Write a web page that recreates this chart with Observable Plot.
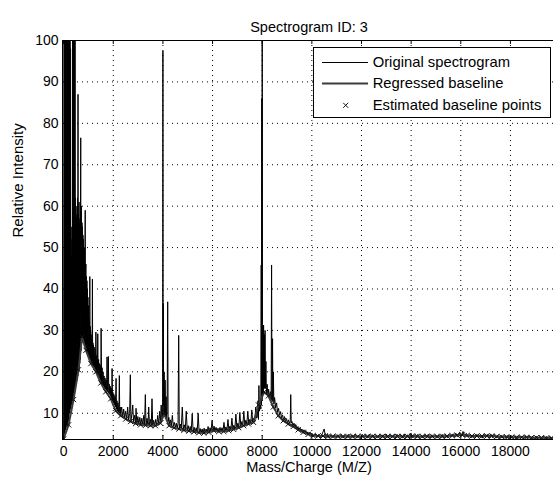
<!DOCTYPE html>
<html>
<head>
<meta charset="utf-8">
<script src="https://cdn.jsdelivr.net/npm/d3@7"></script>
<script src="https://cdn.jsdelivr.net/npm/@observablehq/plot@0.6"></script>
<style>
  body { margin: 0; background: #fff; }
  #wrap { position: relative; width: 553px; height: 477px; overflow: hidden; font-family: "Liberation Sans", Arial, Helvetica, sans-serif; }
  #wrap svg { display: block; }
  #legend { position: absolute; left: 313px; top: 47px; }
  #legend text { font-family: "Liberation Sans", Arial, Helvetica, sans-serif; font-size: 14.8px; fill: #000; }
</style>
</head>
<body>
<div id="wrap"></div>
<script>
// ---------- text ----------
const titleText = "Spectrogram ID: 3";
const xLabel = "Mass/Charge (M/Z)";
const yLabel = "Relative Intensity";
const legendLabels = ["Original spectrogram", "Regressed baseline", "Estimated baseline points"];

// ---------- ticks ----------
const xTicks = [0, 2000, 4000, 6000, 8000, 10000, 12000, 14000, 16000, 18000];
const yTicks = [10, 20, 30, 40, 50, 60, 70, 80, 90, 100];
const xDomain = [-45, 19735];
const yDomain = [3.66, 100];

// ---------- original spectrogram [m/z, intensity] ----------
const specLow = [
  [0,4],[10,60],[20,130],[30,5],[40,120],[50,5],[60,125],[70,6],[80,135],[90,6],[100,140],[110,7],
  [120,128],[130,8],[140,110],[150,7],[160,130],[170,8],[180,130],[190,8],[200,122],[210,9],[220,120],
  [230,10],[240,132],[250,10],[260,135],[270,11],[280,98],[290,11],[300,55],[310,12],[320,48],[330,12],
  [340,52],[350,13],[360,104],[370,13],[380,128],[390,14],[400,125],[410,14],[420,135],[430,15],[440,120],
  [450,15],[460,118],[470,16],[480,62],[490,17],[500,60],[510,17],[520,57],[530,18],[540,58],[550,18],
  [560,62],[570,19],[580,87],[590,20],[600,58],[610,20],[620,61],[630,21],[640,56],[650,22],[660,57],
  [670,23],[680,59],[690,76.5],[700,25],[710,54],[720,60],[730,27],[740,56],[750,28],[760,55],[770,28],
  [780,53],[790,27.5],[800,52],[810,27],[820,49],[830,27],[840,50],[850,26],[860,47],[870,59],[880,26],
  [890,45],[900,46],[910,25],[920,43],[930,25],[940,42],[950,25],[960,40],[970,24.5],[980,38],[990,24],
  [1000,36],[1010,24],[1020,33],[1030,23.5],[1040,32],[1048,23.5],[1055,43],[1062,23],[1070,31],[1080,23],
  [1090,30],[1100,22.5],[1110,29],[1120,22.5],[1130,28],[1140,22],[1150,28],[1160,42.4],[1170,21.5],
  [1180,27],[1190,21.5],[1200,26.5],[1210,21.2],[1230,26],[1250,21],[1270,25.5],[1285,20.5],[1300,29.6],
  [1320,20],[1340,24],[1360,19.5],[1376,29.2],[1390,19],[1410,23],[1430,18.5],[1450,22],[1470,18],
  [1490,21.5],[1500,17.8],[1510,30.5],[1530,17.5],[1550,21],[1570,17],[1590,20],[1610,16.5],[1630,19],
  [1650,16],[1670,18.5],[1690,15.8],[1710,18],[1730,15.5],[1750,23.6],[1770,15.2],[1790,17.5],[1803,23.7],
  [1820,14.8],[1840,17],[1860,14.5],[1880,16.5],[1900,14],[1920,16],[1940,13.5],[1952,20.8],[1970,13],
  [1990,15],[2010,12.5],[2030,14.5],[2050,12],[2070,14],[2090,11.5],[2113,18.4],[2130,11],[2150,13],
  [2170,10.5],[2190,12.5],[2210,10.2],[2230,12],[2245,19.1],[2260,10],[2280,11.5]
];
const specMid = [
  [2300,9.5],[2340,11.5],[2380,9.0],[2420,11],[2460,8.8],[2500,10.5],[2540,8.5],[2580,11.5],[2620,8.3],
  [2660,10],[2688,19.3],[2710,8.0],[2750,9.8],[2785,12],[2820,7.8],[2860,9.5],[2900,7.6],[2917,11.2],
  [2950,7.5],[2990,9.2],[3030,7.3],[3070,9],[3110,7.2],[3150,8.8],[3190,7.1],[3230,9.5],[3260,7.1],
  [3292,14.5],[3320,7.0],[3360,8.8],[3400,7.0],[3428,11.5],[3460,7.0],[3500,8.5],[3530,6.9],[3561,13.5],
  [3590,6.9],[3630,8.3],[3670,6.9],[3710,8.5],[3750,7.0],[3790,9.5],[3830,7.3],[3870,10.5],[3900,7.8],
  [3930,12],[3960,8.5]
];
const spec4000 = [
  [3990,9],[4000,97.5],[4010,9.5],[4016,36.5],[4030,12],[4050,20],[4070,10],[4090,18],[4110,9],[4130,14],
  [4150,8.5],[4170,11],[4193,36.9],[4210,8],[4240,9],[4270,7.3],[4300,8.4],[4340,7],[4380,9.5],[4420,6.8],
  [4460,7.8],[4500,6.6],[4540,7.6],[4580,6.5],[4610,7.5],[4636,28.8],[4660,6.4],[4700,7.4],[4740,6.3],
  [4780,11.5],[4820,6.2],[4860,7.2],[4900,6.0],[4940,10.5],[4980,5.9],[5020,7.0],[5060,5.8],[5100,6.8],
  [5140,5.6],[5180,9.9],[5220,5.5],[5260,6.6],[5300,5.4],[5340,6.5],[5380,5.3],[5420,10],[5460,5.3],
  [5500,6.3],[5540,5.2],[5580,6.2],[5620,5.1],[5660,6.4],[5700,5.2],[5740,6.2],[5780,5.3],[5820,6.8],
  [5860,5.4],[5900,6.5],[5940,5.6],[5980,8.3],[6020,5.8],[6060,6.9],[6100,5.6],[6140,6.6],[6180,5.5],
  [6220,6.4],[6260,5.4],[6300,6.6],[6340,5.5],[6380,6.5],[6420,5.6],[6460,7.8],[6500,5.7],[6540,6.7],
  [6580,5.8],[6620,8.5],[6660,5.9],[6700,6.9],[6740,6.0],[6780,8.8],[6820,6.1],[6860,7.1],[6900,6.3],
  [6940,9.8],[6980,6.5],[7020,7.6],[7060,6.7],[7100,10.2],[7140,6.8],[7180,8.0],[7220,7.0],[7260,10.5],
  [7300,7.1],[7340,8.3],[7380,7.3],[7420,10.5],[7460,7.4],[7500,8.5],[7540,7.5],[7580,10.8],[7620,7.6],
  [7660,8.8],[7700,7.9],[7740,11.5],[7770,8.8]
];
const spec8000 = [
  [7800,9],[7830,13],[7850,8.5],[7867,16.7],[7890,10.5],[7920,12],[7945,11],[7960,45.8],[7970,12],
  [7985,86],[7995,13],[8000,130],[8010,14],[8030,20],[8045,15],[8056,31.3],[8070,16],[8085,29],[8100,16],
  [8115,30],[8130,16],[8150,22.5],[8170,14.5],[8200,17],[8230,14.2],[8260,15.8],[8290,13.8],[8330,15.2],
  [8360,13.3],[8378,45.8],[8395,13],[8418,28],[8430,12.8],[8450,20],[8470,12.2],[8500,13.8],[8540,11.3],
  [8580,12.5],[8620,10.2],[8660,11.2],[8700,9.5],[8740,10.4],[8780,8.8],[8820,9.6],[8860,8.3],[8900,9.2],
  [8940,7.9],[8980,8.7],[9020,7.6],[9060,8.4],[9100,7.3],[9130,8.2],[9150,14.5],[9170,7.6],[9200,8.0],
  [9240,6.9],[9280,7.6],[9320,6.5],[9360,7.2],[9400,6.1],[9440,6.8],[9480,5.9],[9520,6.5],[9560,5.7],
  [9600,6.2],[9640,5.4],[9680,6.0],[9720,5.2],[9760,5.8],[9800,5.0],[9840,5.5],[9880,4.8],[9920,5.4],
  [9960,4.7],[10000,5.2]
];
const specTail = [
  [10070,4.3],[10140,5.0],[10210,4.2],[10280,4.9],[10350,4.1],[10420,5.0],[10495,6.2],[10560,4.1],[10630,5.1],
  [10700,4.0],[10770,4.8],[10840,4.1],[10910,4.9],[10980,4.0],[11050,4.8],[11120,4.1],[11190,4.9],[11260,4.0],
  [11330,4.7],[11400,4.0],[11470,4.9],[11540,4.1],[11610,4.8],[11680,4.0],[11750,4.9],[11820,4.1],[11890,4.7],
  [11960,4.0],[12030,4.9],[12100,4.1],[12170,4.8],[12240,4.0],[12310,4.9],[12380,4.1],[12450,4.8],[12520,4.0],
  [12590,4.7],[12660,4.1],[12730,4.9],[12800,4.0],[12870,4.8],[12940,4.1],[13010,4.9],[13080,4.0],[13150,4.7],
  [13220,4.1],[13290,4.8],[13360,4.0],[13430,4.9],[13500,4.1],[13570,4.8],[13640,4.0],[13710,4.9],[13780,4.1],
  [13850,4.8],[13920,4.0],[13990,5.2],[14060,4.1],[14130,4.8],[14200,4.0],[14270,4.9],[14340,4.1],[14410,4.7],
  [14480,4.0],[14550,4.8],[14620,4.1],[14690,4.9],[14760,4.0],[14830,4.8],[14900,4.1],[14970,4.7],[15040,4.0],
  [15110,4.8],[15180,4.1],[15250,4.9],[15320,4.0],[15390,4.8],[15460,4.1],[15530,4.9],[15600,4.2],[15670,5.0],
  [15740,4.2],[15810,5.1],[15880,4.3],[15950,5.4],[16020,4.4],[16090,5.6],[16160,4.3],[16230,5.1],[16300,4.2],
  [16370,4.9],[16440,4.1],[16510,4.8],[16580,4.0],[16650,4.9],[16720,4.1],[16790,4.8],[16860,4.0],[16930,5.0],
  [17000,4.1],[17070,4.9],[17140,4.0],[17210,5.0],[17280,4.1],[17350,4.8],[17420,4.0],[17490,4.7],[17560,3.9],
  [17630,4.7],[17700,4.0],[17770,4.6],[17840,3.9],[17910,4.7],[17980,3.8],[18050,4.6],[18120,3.9],[18190,4.5],
  [18260,3.8],[18330,4.6],[18400,3.9],[18470,4.5],[18540,3.8],[18610,4.6],[18680,3.9],[18750,4.5],[18820,3.8],
  [18890,4.5],[18960,3.8],[19030,4.5],[19100,3.8],[19170,4.4],[19240,3.7],[19310,4.5],[19380,3.8],[19450,4.4],
  [19520,3.7],[19590,4.4],[19660,3.7],[19730,4.4]
];

// ---------- estimated baseline points [m/z, intensity] ----------
const baselineLow = [
  [0,3.8],[200,7.2],[400,13.3],[600,20.5],[740,28.4],[900,25.2],[1100,22.0],[1300,20.0],[1500,17.3],
  [1700,15.2],[1900,13.5],[2100,10.6],[2300,9.4],[2500,8.6],[2700,8.0],[2900,7.5],[3100,7.2],[3300,7.1],
  [3500,7.0],[3700,7.0],[3900,7.6],[4050,9.8],[4250,7.0],[4450,6.5],[4650,6.2],[4850,5.9],[5050,5.7],
  [5250,5.5],[5450,5.3],[5650,5.2],[5850,5.4],[6050,5.8],[6250,5.6],[6450,5.6],[6650,5.8],[6850,6.1],
  [7050,6.5],[7250,7.0],[7450,7.4],[7650,7.8],[7850,12.0],[8080,15.1],[8250,14.2],[8450,11.5],[8650,9.4],
  [8850,8.2],[9050,7.4],[9250,6.8],[9450,6.0],[9650,5.4],[9850,4.9]
];
const baselineHigh = [
  [10050,4.6],[10250,4.5],[10450,4.5],[10650,4.4],[10850,4.4],[11050,4.4],[11250,4.4],[11450,4.4],[11650,4.4],
  [11850,4.4],[12050,4.4],[12250,4.4],[12450,4.4],[12650,4.4],[12850,4.4],[13050,4.4],[13250,4.4],[13450,4.4],
  [13650,4.4],[13850,4.4],[14050,4.5],[14250,4.4],[14450,4.4],[14650,4.4],[14850,4.4],[15050,4.4],[15250,4.4],
  [15450,4.5],[15650,4.6],[15850,4.7],[16050,4.8],[16250,4.6],[16450,4.5],[16650,4.5],[16850,4.5],[17050,4.5],
  [17250,4.5],[17450,4.4],[17650,4.3],[17850,4.3],[18050,4.2],[18250,4.2],[18450,4.2],[18650,4.2],[18850,4.1],
  [19050,4.1],[19250,4.1],[19450,4.0],[19650,4.0]
];

// ---------- build ----------
const toRows = arr => arr.map(([mz, v]) => ({mz, v}));
const spectrum = toRows([...specLow, ...specMid, ...spec4000, ...spec8000, ...specTail]);
const baseline = toRows([...baselineLow, ...baselineHigh]);

const W = 553, H = 477, mL = 62, mR = 0, mT = 40, mB = 38;
const frameW = W - mL - mR, frameH = H - mT - mB;
const font = '"Liberation Sans", Arial, Helvetica, sans-serif';

const chart = Plot.plot({
  width: W, height: H,
  marginLeft: mL, marginRight: mR, marginTop: mT, marginBottom: mB,
  style: {fontFamily: font, fontSize: "14px", background: "white", color: "black"},
  x: {domain: xDomain, axis: null},
  y: {domain: yDomain, axis: null},
  marks: [
    Plot.ruleX(xTicks.slice(1), {x: d => d, stroke: "#000", strokeWidth: 1, strokeDasharray: "1,4"}),
    Plot.ruleY(yTicks.slice(0, -1), {y: d => d, stroke: "#000", strokeWidth: 1, strokeDasharray: "1,4"}),
    Plot.line(spectrum, {x: "mz", y: "v", stroke: "#000", strokeWidth: 1, clip: true}),
    Plot.line(baseline, {x: "mz", y: "v", stroke: "#3c3c3c", strokeWidth: 2, clip: true}),
    Plot.dot(baseline, {x: "mz", y: "v", symbol: "times", r: 2.5, stroke: "#111", strokeWidth: 1, clip: true}),
    Plot.ruleX([xDomain[0]], {x: d => d, stroke: "#000"}),
    Plot.ruleY([yDomain[0]], {y: d => d, stroke: "#000"}),
    Plot.ruleY([yDomain[1]], {y: d => d, stroke: "#000"}),
    Plot.tickX(xTicks, {x: d => d, insetTop: frameH - 4, stroke: "#000"}),
    Plot.tickX(xTicks, {x: d => d, insetBottom: frameH - 4, stroke: "#000"}),
    Plot.tickY(yTicks, {y: d => d, insetRight: frameW - 4, stroke: "#000"}),
    Plot.axisX(xTicks, {tickSize: 0, tickPadding: 7, fontSize: 14, tickFormat: d => String(d), label: null}),
    Plot.axisY(yTicks, {tickSize: 0, tickPadding: 4, fontSize: 14, tickFormat: d => String(d), label: null}),
    Plot.text([titleText], {frameAnchor: "top", dy: -19, dx: 1, fontSize: 14.5}),
    Plot.text([xLabel], {frameAnchor: "bottom", dy: 32, dx: 1, fontSize: 14.6}),
    Plot.text([yLabel], {frameAnchor: "left", rotate: -90, dx: -44.5, dy: -2.5, fontSize: 15})
  ]
});

const wrap = document.getElementById("wrap");
wrap.appendChild(chart);

// ---------- legend ----------
const ns = "http://www.w3.org/2000/svg";
const lg = document.createElementNS(ns, "svg");
lg.setAttribute("id", "legend");
lg.setAttribute("width", 239);
lg.setAttribute("height", 72);
const add = (tag, attrs, text) => {
  const el = document.createElementNS(ns, tag);
  for (const k in attrs) el.setAttribute(k, attrs[k]);
  if (text != null) el.textContent = text;
  lg.appendChild(el);
  return el;
};
add("rect", {x: 0.5, y: 0.5, width: 237, height: 70, fill: "#fff", stroke: "#000", "stroke-width": 1});
const rowsY = [15, 36.3, 58];
add("line", {x1: 9, x2: 55, y1: 15.5, y2: 15.5, stroke: "#000", "stroke-width": 1});
add("line", {x1: 9, x2: 55, y1: 36.5, y2: 36.5, stroke: "#3c3c3c", "stroke-width": 2});
add("path", {d: "M30.2,55.8L35.2,60.8M30.2,60.8L35.2,55.8", stroke: "#111", "stroke-width": 1, fill: "none"});
legendLabels.forEach((t, i) => add("text", {x: 59.7, y: rowsY[i], dy: "0.35em"}, t));
wrap.appendChild(lg);
</script>
</body>
</html>
